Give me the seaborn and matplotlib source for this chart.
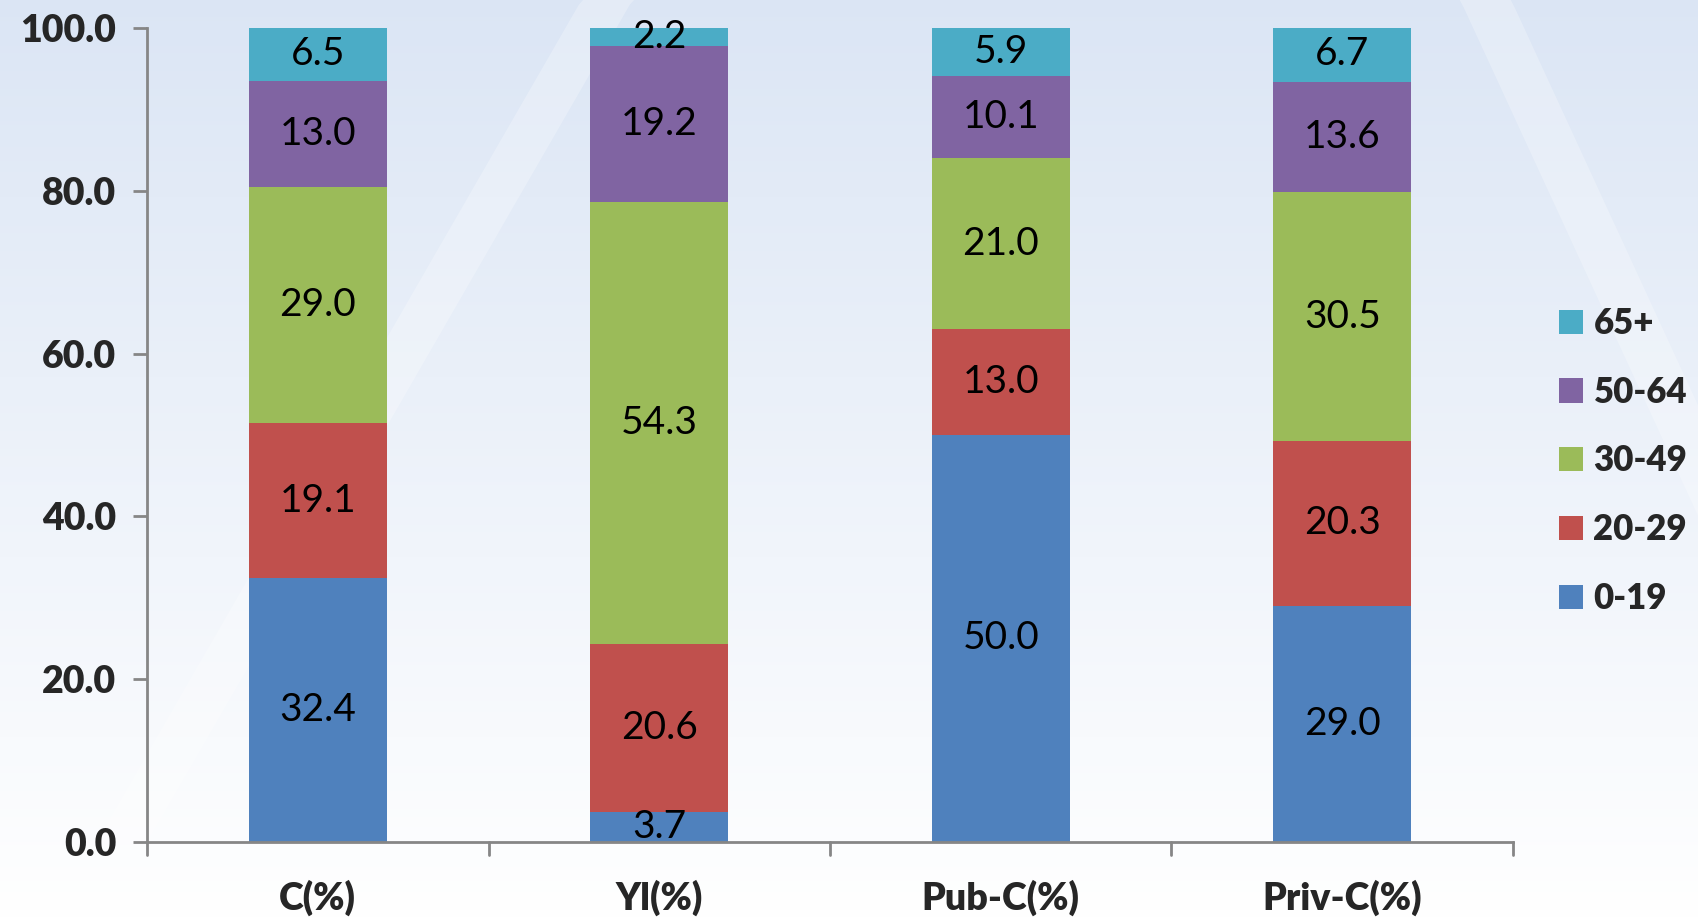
import numpy as np
import pandas as pd
import matplotlib
matplotlib.use("Agg")
import matplotlib.pyplot as plt
from matplotlib.patches import Patch
import seaborn as sns

# Age-group shares (%) per category
categories = ["C(%)", "Yl(%)", "Pub-C(%)", "Priv-C(%)"]
groups = ["0-19", "20-29", "30-49", "50-64", "65+"]
age_0_19 = [32.4, 3.7, 50.0, 29.0]
age_20_29 = [19.1, 20.6, 13.0, 20.3]
age_30_49 = [29.0, 54.3, 21.0, 30.5]
age_50_64 = [13.0, 19.2, 10.1, 13.6]
age_65_plus = [6.5, 2.2, 5.9, 6.7]
y_ticks = [0.0, 20.0, 40.0, 60.0, 80.0, 100.0]

colors = ["#4F81BD", "#C0504D", "#9BBB59", "#8064A2", "#4BACC6"]

sns.set_theme(style="white")
plt.rcParams["font.family"] = ["Lato", "DejaVu Sans"]

fig = plt.figure(figsize=(16.98, 9.21), dpi=100)

# Soft blue-to-white backdrop
bg = fig.add_axes([0, 0, 1, 1], zorder=0)
grad = np.linspace(0, 1, 256)[:, None]
top = np.array([0.86, 0.90, 0.96])
bottom = np.array([1.0, 1.0, 1.0])
img = top[None, None, :] * (1 - grad[:, :, None]) + bottom[None, None, :] * grad[:, :, None]
img = np.repeat(img, 2, axis=1)
bg.imshow(img, aspect="auto", extent=[0, 1, 0, 1], origin="upper")
# faint diagonal light streaks
xs = np.linspace(0, 1, 400)
bg.fill_between(xs, np.clip((xs - 0.03) * 3.2, 0, 1), np.clip((xs - 0.06) * 3.2, 0, 1),
                color="white", alpha=0.25, lw=0)
bg.fill_between(xs, np.clip(1 - (xs - 0.86) * 4, 0, 1), np.clip(1 - (xs - 0.89) * 4, 0, 1),
                color="white", alpha=0.25, lw=0)
bg.set_xlim(0, 1)
bg.set_ylim(0, 1)
bg.axis("off")

ax = fig.add_axes([0.0866, 0.0858, 0.8044, 0.8838], zorder=1)
ax.patch.set_alpha(0)

df = pd.DataFrame({"category": categories, "0-19": age_0_19, "20-29": age_20_29,
                   "30-49": age_30_49, "50-64": age_50_64, "65+": age_65_plus})

base = np.zeros(len(categories))
for g, c in zip(groups, colors):
    vals = df[g].to_numpy()
    sns.barplot(data=df, x="category", y=g, color=c, width=0.405, bottom=base,
                ax=ax, saturation=1, edgecolor="none", linewidth=0)
    for i, v in enumerate(vals):
        ax.text(i, base[i] + v / 2, f"{v:.1f}", ha="center", va="center",
                fontsize=28, color="black", zorder=5)
    base = base + vals

ax.set_xlim(-0.5, len(categories) - 0.5)
ax.set_ylim(0, 100)
ax.set_yticks(y_ticks)
ax.set_yticklabels([f"{t:.1f}" for t in y_ticks], fontsize=27, fontweight="heavy")
ax.set_xticks(range(len(categories)))
ax.set_xticklabels(categories, fontsize=27, fontweight="heavy")
ax.tick_params(axis="x", length=0, pad=27)
ax.tick_params(axis="y", length=10, width=2, color="#868686", pad=12, left=True)
ax.set_xlabel("")
ax.set_ylabel("")

# category separator ticks on the x axis
for xb in np.arange(-0.5, len(categories), 1.0):
    ax.plot([xb, xb], [0, -1.6], color="#868686", lw=2, clip_on=False, zorder=2)

for s in ["top", "right"]:
    ax.spines[s].set_visible(False)
for s in ["left", "bottom"]:
    ax.spines[s].set_color("#868686")
    ax.spines[s].set_linewidth(2)

handles = [Patch(facecolor=c, edgecolor="none", label=g) for g, c in zip(groups, colors)][::-1]
leg = fig.legend(handles=handles, loc="center left", bbox_to_anchor=(0.918, 0.4995),
                 frameon=False, prop={"size": 25, "weight": "heavy"},
                 handlelength=0.7, handleheight=0.7, handletextpad=0.3,
                 labelspacing=1.03, borderaxespad=0, borderpad=0)

fig.savefig("out.png", dpi=100)
